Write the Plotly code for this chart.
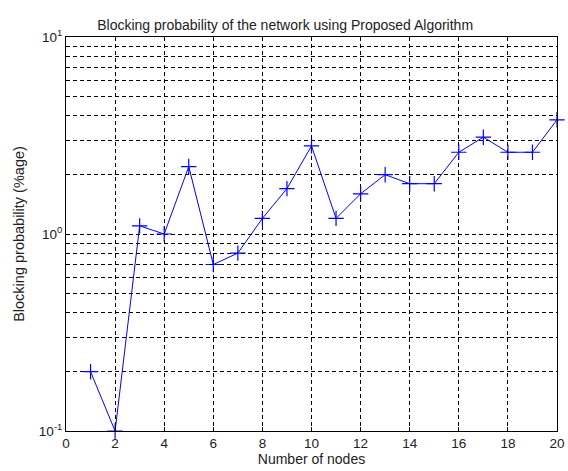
import plotly.graph_objects as go

# Number of nodes and measured blocking probability (%age)
nodes = list(range(1, 21))
blocking = [0.2, 0.1, 1.1, 1.0, 2.2, 0.7, 0.8, 1.2, 1.7, 2.8,
            1.2, 1.6, 2.0, 1.8, 1.8, 2.6, 3.1, 2.6, 2.6, 3.8]

x_ticks = list(range(0, 21, 2))
# log-axis grid at every 1..9 x 10^k, labelled only at the decades
y_grid = [m * 10.0 ** k for k in (-1, 0) for m in range(1, 10)] + [10.0]
decade_labels = {0.1: "10<sup>-1</sup>", 1.0: "10<sup>0</sup>", 10.0: "10<sup>1</sup>"}
y_text = [decade_labels.get(round(v, 6), "") for v in y_grid]

fig = go.Figure()
fig.add_trace(go.Scatter(
    x=nodes, y=blocking, mode="lines+markers",
    line=dict(color="#0000ff", width=1),
    marker=dict(symbol="cross-thin", size=11, line=dict(color="#0000ff", width=1.2)),
    cliponaxis=False, showlegend=False,
))

font = dict(family="Liberation Sans, Arial, sans-serif", color="#222222")
grid_style = dict(showgrid=True, gridcolor="black", griddash="4px,3px", gridwidth=1,
                  showline=True, linecolor="black", linewidth=1, mirror=True,
                  ticks="inside", ticklen=4, tickcolor="black", zeroline=False,
                  ticklabeloverflow="allow", tickfont=dict(size=13.5, **font))
fig.update_layout(
    width=568, height=471,
    margin=dict(l=66, r=3, t=37, b=40),
    paper_bgcolor="white", plot_bgcolor="white",
    font=dict(size=13, **font),
    title=dict(text="Blocking probability of the network using Proposed Algorithm",
               x=0.502, xanchor="center", y=0.946, yanchor="middle",
               font=dict(size=14, **font)),
    xaxis=dict(range=[0, 20], tickvals=x_ticks, ticktext=[str(v) for v in x_ticks],
               title=dict(text="Number of nodes", standoff=2, font=dict(size=14, **font)),
               **grid_style),
    yaxis=dict(type="log", range=[-1, 1], tickvals=y_grid, ticktext=y_text,
               title=dict(text="Blocking probability (%age)", standoff=10, font=dict(size=14.5, **font)),
               **grid_style),
)

fig.write_html("out.html")
